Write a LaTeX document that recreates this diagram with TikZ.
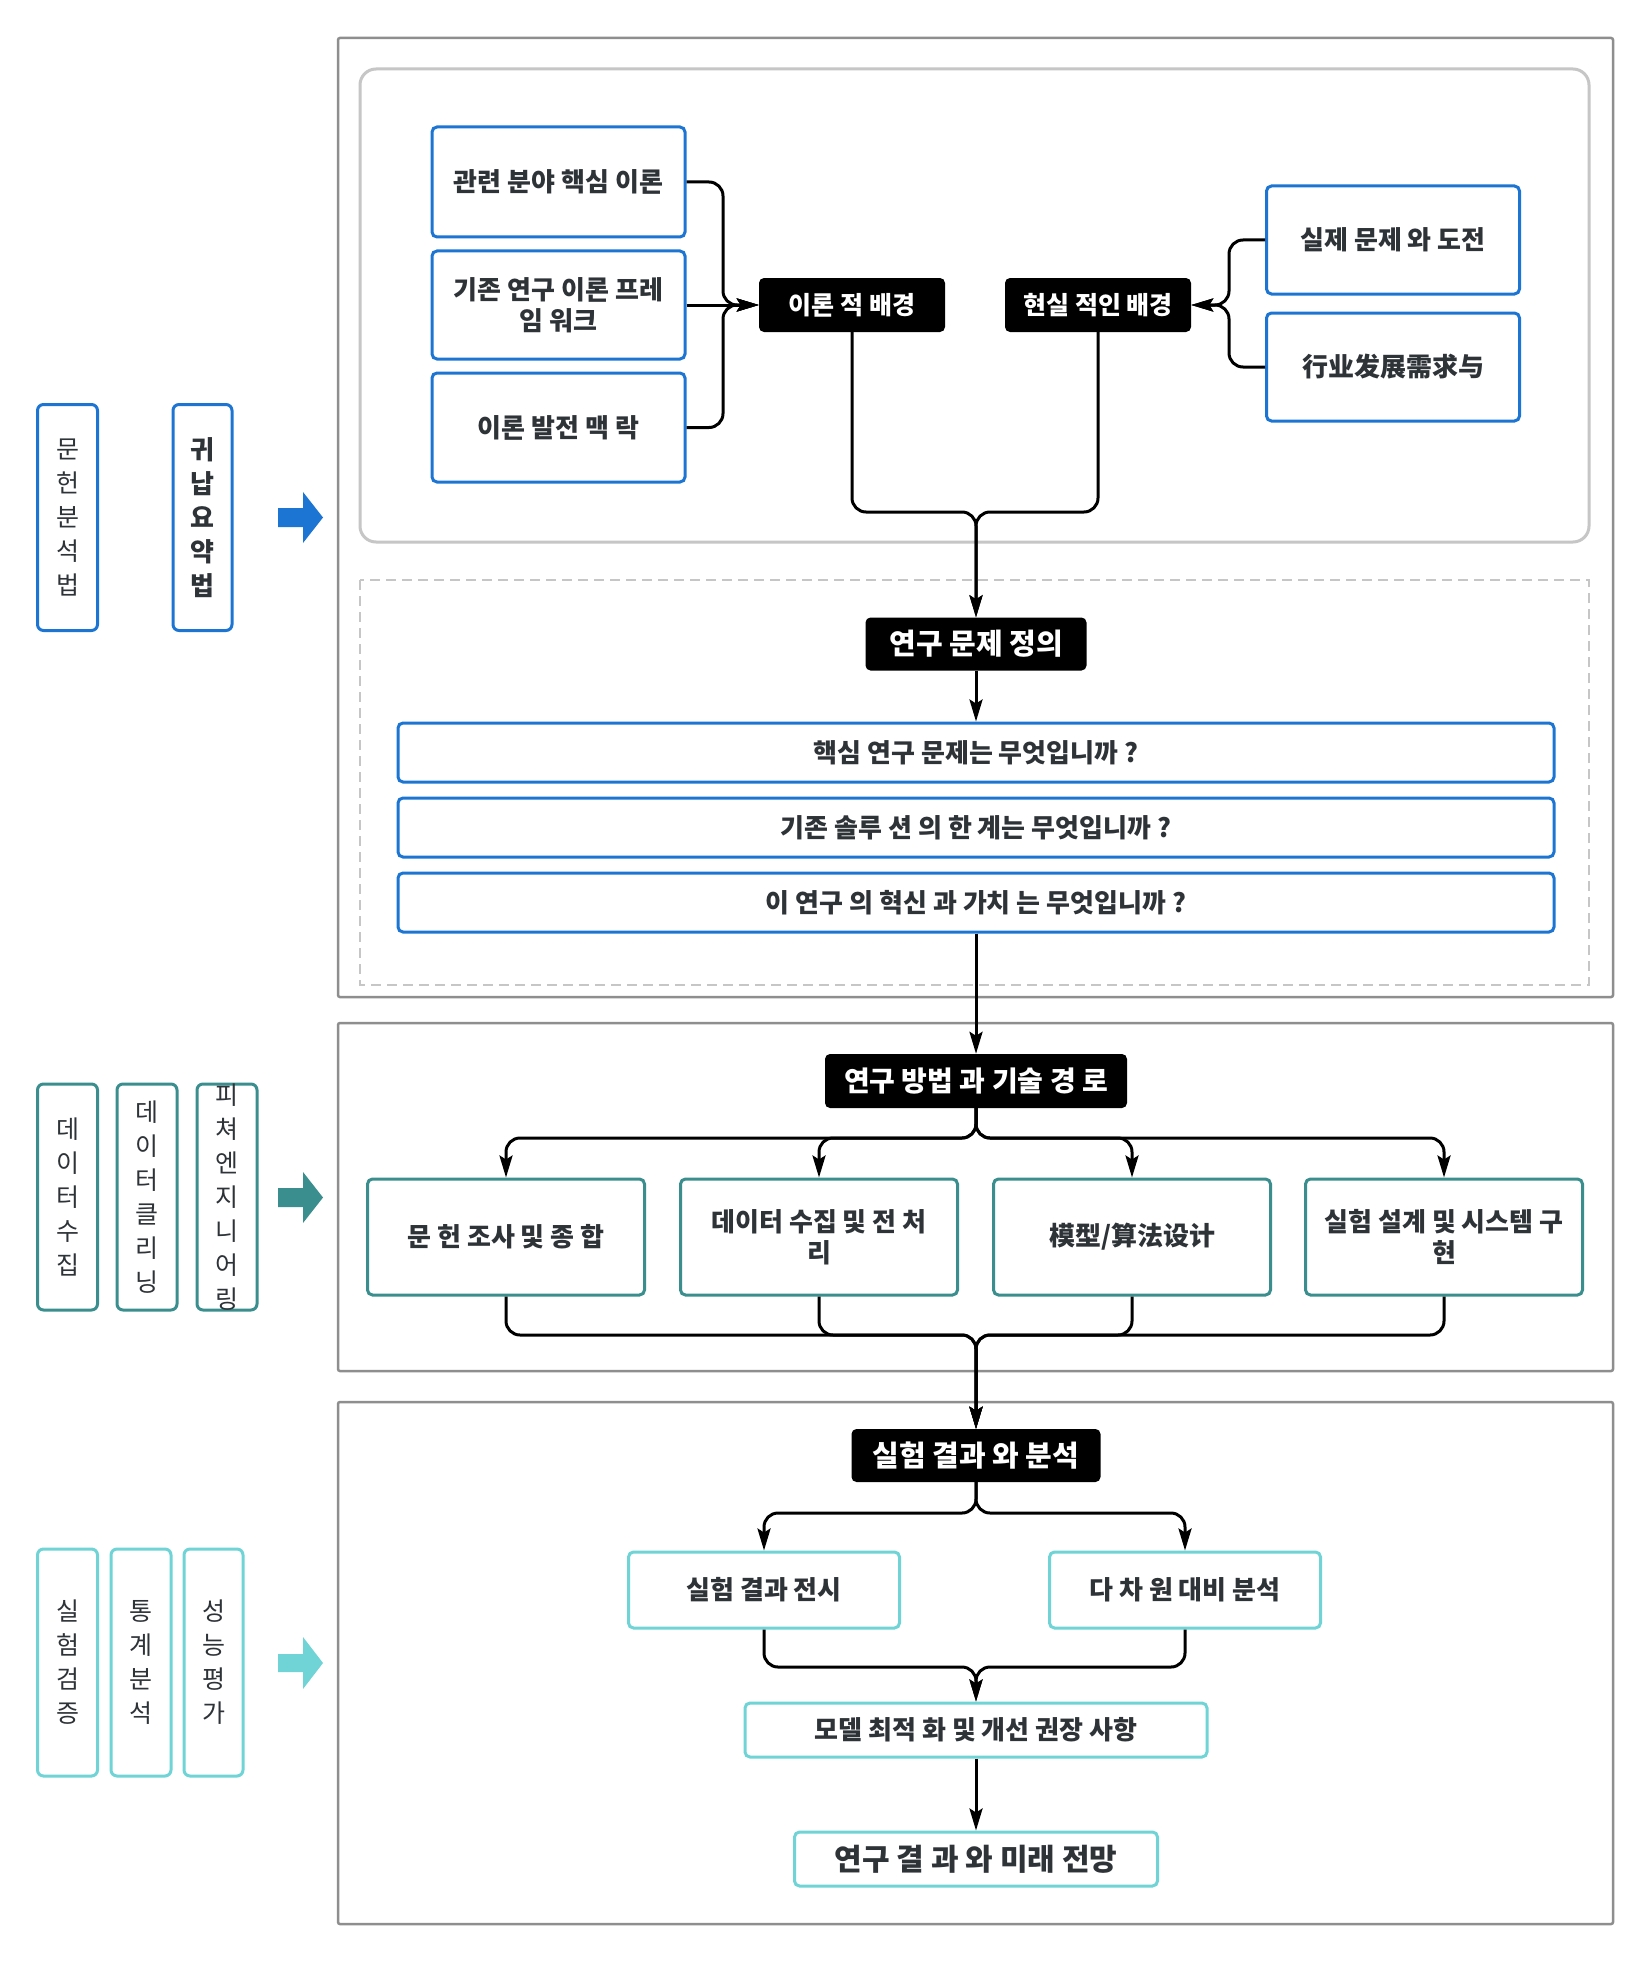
\documentclass[tikz,border=0pt]{standalone}
\usepackage{fontspec}
\setmainfont{Noto Sans CJK KR}
\newfontfamily\cjksc{Noto Sans CJK SC}
\usetikzlibrary{arrows.meta}
\definecolor{bluec}{HTML}{1C75D3}
\definecolor{tealc}{HTML}{3A8E8E}
\definecolor{cyanc}{HTML}{70D4D7}
\definecolor{txt}{HTML}{2E3338}
\definecolor{outerc}{HTML}{8E8E8E}
\definecolor{innerc}{HTML}{C6C6C6}
\begin{document}
\begin{tikzpicture}[x=1pt,y=-1pt,
  box/.style={draw, line width=3pt, rounded corners=5pt, fill=white, align=center, text=txt,
    font=\fontsize{26}{31}\selectfont\bfseries, inner sep=0pt},
  bluebox/.style={box, draw=bluec},
  tealbox/.style={box, draw=tealc},
  cyanbox/.style={box, draw=cyanc},
  blackbox/.style={fill=black, rounded corners=5pt, text=white, align=center, inner sep=0pt,
    font=\fontsize{25}{28}\selectfont\bfseries},
  vbox/.style={draw, line width=3pt, rounded corners=6pt, fill=white, minimum width=60pt, minimum height=226pt, inner sep=0pt},
  vtext/.style={align=center, text=txt, font=\fontsize{25}{34}\selectfont, inner sep=0pt},
  conn/.style={line width=3pt, rounded corners=14pt},
  arr/.style={-{Stealth[length=22pt,width=13pt,inset=4pt]}},
  outer/.style={draw=outerc, line width=2.5pt, rounded corners=2pt}
]
\useasboundingbox[fill=white] (0,0) rectangle (1650,1961);

% frames
\draw[outer] (338,38) rectangle (1613,997);
\draw[outer] (338,1023) rectangle (1613,1371);
\draw[outer] (338,1402) rectangle (1613,1924);
\draw[draw=innerc, line width=3pt, rounded corners=16pt] (360,69) rectangle (1589,542);
\draw[draw=innerc, line width=2pt, dash pattern=on 10pt off 6pt] (360,580) rectangle (1589,985);

% left method columns
\node[vbox, draw=bluec] (a1) at (67.5,517.5) {};
\node[vtext] at (a1) {문\\헌\\분\\석\\법};
\node[vbox, draw=bluec, minimum width=59pt] (a2) at (202.5,517.5) {};
\node[vtext, font=\fontsize{26}{34}\selectfont\bfseries] at (a2) {귀\\납\\요\\약\\법};
\fill[bluec] (278,508) -- (303,508) -- (303,492) -- (323,517.5) -- (303,543) -- (303,527) -- (278,527) -- cycle;

\node[vbox, draw=tealc] (c1) at (67.5,1197) {};
\node[vtext] at (c1) {데\\이\\터\\수\\집};
\node[vbox, draw=tealc] (c2) at (147,1197) {};
\node[vtext] at (c2) {데\\이\\터\\클\\리\\닝};
\node[vbox, draw=tealc] (c3) at (227,1197) {};
\node[vtext] at (c3) {피\\쳐\\엔\\지\\니\\어\\링};
\fill[tealc] (278,1188) -- (303,1188) -- (303,1172) -- (323,1197.5) -- (303,1223) -- (303,1207) -- (278,1207) -- cycle;

\node[vbox, draw=cyanc, minimum height=227pt] (d1) at (67.5,1662.5) {};
\node[vtext] at (d1) {실\\험\\검\\증};
\node[vbox, draw=cyanc, minimum height=227pt] (d2) at (141,1662.5) {};
\node[vtext] at (d2) {통\\계\\분\\석};
\node[vbox, draw=cyanc, minimum height=227pt, minimum width=59pt] (d3) at (213.5,1662.5) {};
\node[vtext] at (d3) {성\\능\\평\\가};
\fill[cyanc] (278,1654) -- (303,1654) -- (303,1637) -- (323,1663) -- (303,1689) -- (303,1672) -- (278,1672) -- cycle;

% section 1
\node[bluebox, minimum width=253pt, minimum height=110pt] (t1) at (558.5,182) {관련 분야 핵심 이론};
\node[bluebox, minimum width=253pt, minimum height=108pt] (t2) at (558.5,305) {기존 연구 이론 프레\\임 워크};
\node[bluebox, minimum width=253pt, minimum height=109pt] (t3) at (558.5,427.5) {이론 발전 맥 락};
\node[blackbox, minimum width=186pt, minimum height=54pt] (tb) at (852,305) {이론 적 배경};
\node[blackbox, minimum width=186pt, minimum height=54pt] (rb) at (1098,305) {현실 적인 배경};
\node[bluebox, minimum width=253pt, minimum height=108pt] (r1) at (1393,240) {실제 문제 와 도전};
\node[bluebox, minimum width=253pt, minimum height=108pt] (r2) at (1393,367) {{\cjksc\bfseries 行业发展需求与}};

\coordinate (jl) at (723,305);
\coordinate (jr) at (1229,305);
\draw[conn,arr] (t1.east) -| (jl) -- (tb.west);
\draw[conn,arr] (t2.east) -- (tb.west);
\draw[conn,arr] (t3.east) -| (jl) -- (tb.west);
\draw[conn,arr] (r1.west) -| (jr) -- (rb.east);
\draw[conn,arr] (r2.west) -| (jr) -- (rb.east);

\node[blackbox, minimum width=221pt, minimum height=53pt, font=\fontsize{29}{32}\selectfont\bfseries] (rq) at (976,644) {연구 문제 정의};
\coordinate (mj) at (976,512);
\draw[conn,arr] (tb.south) |- (mj) -- (rq.north);
\draw[conn,arr] (rb.south) |- (mj) -- (rq.north);

\node[bluebox, minimum width=1156pt, minimum height=59pt] (q1) at (976,752.5) {핵심 연구 문제는 무엇입니까 ?};
\node[bluebox, minimum width=1156pt, minimum height=59pt] (q2) at (976,827.5) {기존 솔루 션 의 한 계는 무엇입니까 ?};
\node[bluebox, minimum width=1156pt, minimum height=59pt] (q3) at (976,902.5) {이 연구 의 혁신 과 가치 는 무엇입니까 ?};
\draw[conn,arr] (rq.south) -- (rq.south |- q1.north);

% section 2
\node[blackbox, minimum width=302pt, minimum height=54pt, font=\fontsize{28}{32}\selectfont\bfseries] (m) at (976,1081) {연구 방법 과 기술 경 로};
\draw[conn,arr] (q3.south -| m.north) -- (m.north);

\node[tealbox, minimum width=277pt, minimum height=116pt] (b1) at (506,1237) {문 헌 조사 및 종 합};
\node[tealbox, minimum width=277pt, minimum height=116pt] (b2) at (819,1237) {데이터 수집 및 전 처\\리};
\node[tealbox, minimum width=277pt, minimum height=116pt] (b3) at (1132,1237) {{\cjksc\bfseries 模型/算法设计}};
\node[tealbox, minimum width=277pt, minimum height=116pt] (b4) at (1444,1237) {실험 설계 및 시스템 구\\현};

\coordinate (bj) at (976,1138);
\coordinate (bm) at (976,1335);
\foreach \b in {b1,b2,b3,b4}{
  \draw[conn,arr] (m.south) -- (bj) -| (\b.north);
}

% section 3
\node[blackbox, minimum width=249pt, minimum height=53pt, font=\fontsize{29}{32}\selectfont\bfseries] (res) at (976,1455.5) {실험 결과 와 분석};
\foreach \b in {b1,b2,b3,b4}{
  \draw[conn,arr] (\b.south) |- (bm) -- (res.north);
}

\node[cyanbox, minimum width=271pt, minimum height=76pt] (e1) at (764,1590) {실험 결과 전시};
\node[cyanbox, minimum width=271pt, minimum height=76pt] (e2) at (1185,1590) {다 차 원 대비 분석};
\node[cyanbox, minimum width=462pt, minimum height=54pt] (opt) at (976,1730) {모델 최적 화 및 개선 권장 사항};
\node[cyanbox, minimum width=363pt, minimum height=54pt, font=\fontsize{30}{32}\selectfont\bfseries] (fin) at (976,1859) {연구 결 과 와 미래 전망};

\coordinate (ej) at (976,1513);
\coordinate (em) at (976,1667);
\draw[conn,arr] (res.south) -- (ej) -| (e1.north);
\draw[conn,arr] (res.south) -- (ej) -| (e2.north);
\draw[conn,arr] (e1.south) |- (em) -- (opt.north);
\draw[conn,arr] (e2.south) |- (em) -- (opt.north);
\draw[conn,arr] (opt.south) -- (fin.north);
\end{tikzpicture}
\end{document}
